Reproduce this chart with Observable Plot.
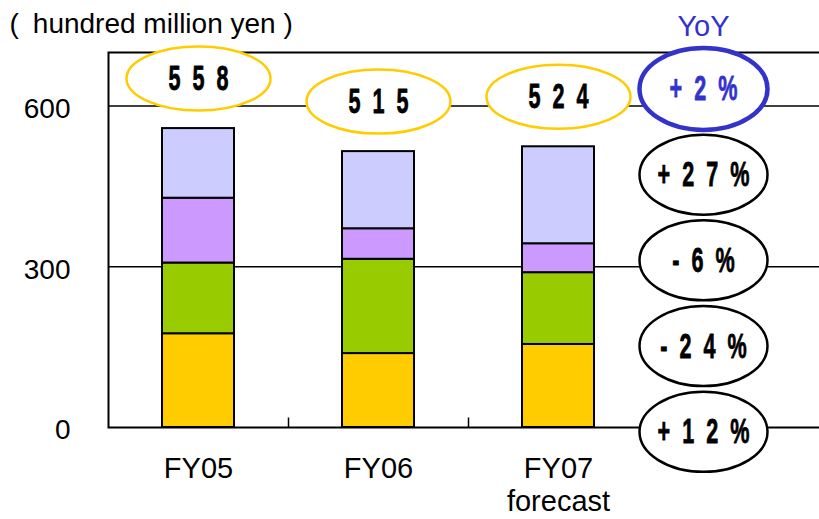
<!DOCTYPE html>
<html>
<head>
<meta charset="utf-8">
<script src="https://cdn.jsdelivr.net/npm/d3@7"></script>
<script src="https://cdn.jsdelivr.net/npm/@observablehq/plot@0.6"></script>
<style>
  body { margin: 0; background: #fff; }
  #chart svg { display: block; }
</style>
</head>
<body>
<div id="chart"></div>
<script>
// Fiscal years on the category axis
const years = ["FY05", "FY06", "FY07\nforecast"];
// Stack segments, bottom to top
const segments = ["seg1", "seg2", "seg3", "seg4"];
const segmentColors = ["#FFCC00", "#99CC00", "#CC99FF", "#CCCCFF"];
// Values per segment (hundred million yen)
const seg1 = [175, 138, 155];
const seg2 = [132, 176, 134];
const seg3 = [121, 57, 54];
const seg4 = [130, 144, 181];
// Year-on-year change (%), per segment bottom to top, then total
const yoySegments = [12, -24, -6, 27];
const yoyTotal = 2;
// Value axis ticks
const yTicks = [0, 300, 600];

const W = 819, H = 519;
const marginLeft = 108, marginRight = -9, marginTop = 52, marginBottom = 92;
const xDomain = [...years, "YoY"];
const step = (W - marginLeft - marginRight) / xDomain.length;

const series = [seg1, seg2, seg3, seg4];
const rows = [];
years.forEach((year, i) => {
  segments.forEach((seg, k) => rows.push({year, seg, value: series[k][i]}));
});
const totals = years.map((year, i) => ({year, total: d3.sum(series, s => s[i])}));

const spaced = s => String(s).split("").join("  ");
const fmtYoy = v => (v < 0 ? "-" : "+") + "  " + spaced(Math.abs(v)) + "  %";

// YoY badges stacked in the right-hand column, one slot per row
const yoyRows = [...yoySegments.map(v => ({v, total: false})), {v: yoyTotal, total: true}];
const slot = i => -8 + i * 160;

// Ellipse outline as a custom dot symbol
function ellipse(rx, ry) {
  return {
    draw(ctx) {
      const k = 0.5523, ox = rx * k, oy = ry * k;
      ctx.moveTo(-rx, 0);
      ctx.bezierCurveTo(-rx, -oy, -ox, -ry, 0, -ry);
      ctx.bezierCurveTo(ox, -ry, rx, -oy, rx, 0);
      ctx.bezierCurveTo(rx, oy, ox, ry, 0, ry);
      ctx.bezierCurveTo(-ox, ry, -rx, oy, -rx, 0);
      ctx.closePath();
    }
  };
}
// Short upward tick at category boundaries
const vtick = {draw(ctx) { ctx.moveTo(0, 0); ctx.lineTo(0, -10); }};

const sans = "'Liberation Sans', Arial, 'Noto Sans CJK JP', sans-serif";
const blue = "#3333CC";

const chart = Plot.plot({
  width: W,
  height: H,
  marginLeft, marginRight, marginTop, marginBottom,
  style: {fontFamily: sans, background: "#fff", color: "#000"},
  x: {domain: xDomain, paddingInner: 0.6, paddingOuter: 0.3, axis: null},
  y: {domain: [0, 700], axis: null},
  color: {domain: segments, range: segmentColors},
  marks: [
    Plot.ruleY(yTicks.filter(d => d > 0), {stroke: "#000", strokeWidth: 1.5}),
    Plot.barY(rows, {x: "year", y: "value", fill: "seg", stroke: "#000", strokeWidth: 2, order: segments}),
    Plot.frame({stroke: "#000", strokeWidth: 2}),
    Plot.axisY({ticks: yTicks, tickSize: 0, tickPadding: 38, fontSize: 28, dy: 3, label: null}),
    Plot.axisX({ticks: years, tickSize: 0, tickPadding: 27, fontSize: 29, lineHeight: 1.14, label: null}),
    Plot.dot(years, {x: d => d, frameAnchor: "bottom", dx: step / 2, symbol: vtick, r: 1, stroke: "#000", strokeWidth: 1.5}),
    // Totals above each bar
    Plot.dot(totals, {x: "year", y: "total", dy: -50, symbol: ellipse(72, 32), r: 1, fill: "#fff", stroke: "#FFCC00", strokeWidth: 2.5}),
    Plot.text(totals, {x: "year", y: "total", dy: -50, text: d => spaced(d.total), fontSize: 36, fontWeight: "bold",
      fill: "#000", stroke: "#000", strokeWidth: 0.8, className: "narrow"}),
    // YoY badges
    Plot.dot(yoyRows, {x: () => "YoY", y: (d, i) => slot(i), dx: -35, symbol: d => d.total ? ellipse(64, 41) : ellipse(64, 40), r: 1,
      fill: "#fff", stroke: d => d.total ? blue : "#000", strokeWidth: d => d.total ? 4.5 : 2.5}),
    Plot.text(yoyRows, {x: () => "YoY", y: (d, i) => slot(i), dx: -35, text: d => fmtYoy(d.v), fontSize: 36, fontWeight: "bold",
      fill: d => d.total ? blue : "#000", stroke: d => d.total ? blue : "#000", strokeWidth: 0.8, className: "narrow"}),
    Plot.text(["YoY"], {x: d => d, frameAnchor: "top", lineAnchor: "middle", dx: -35, dy: -26, text: d => d, fontSize: 29, fill: blue}),
    Plot.text(["(\u2002hundred million yen )"], {frameAnchor: "top-left", lineAnchor: "middle", dx: -99, dy: -28, text: d => d,
      fontSize: 28, textAnchor: "start"})
  ]
});

// Condense the badge numerals horizontally
d3.select(chart).selectAll(".narrow text").each(function () {
  const t = this.getAttribute("transform") || "";
  this.setAttribute("transform", t + " scale(0.6,1)");
});

document.getElementById("chart").appendChild(chart);
</script>
</body>
</html>
